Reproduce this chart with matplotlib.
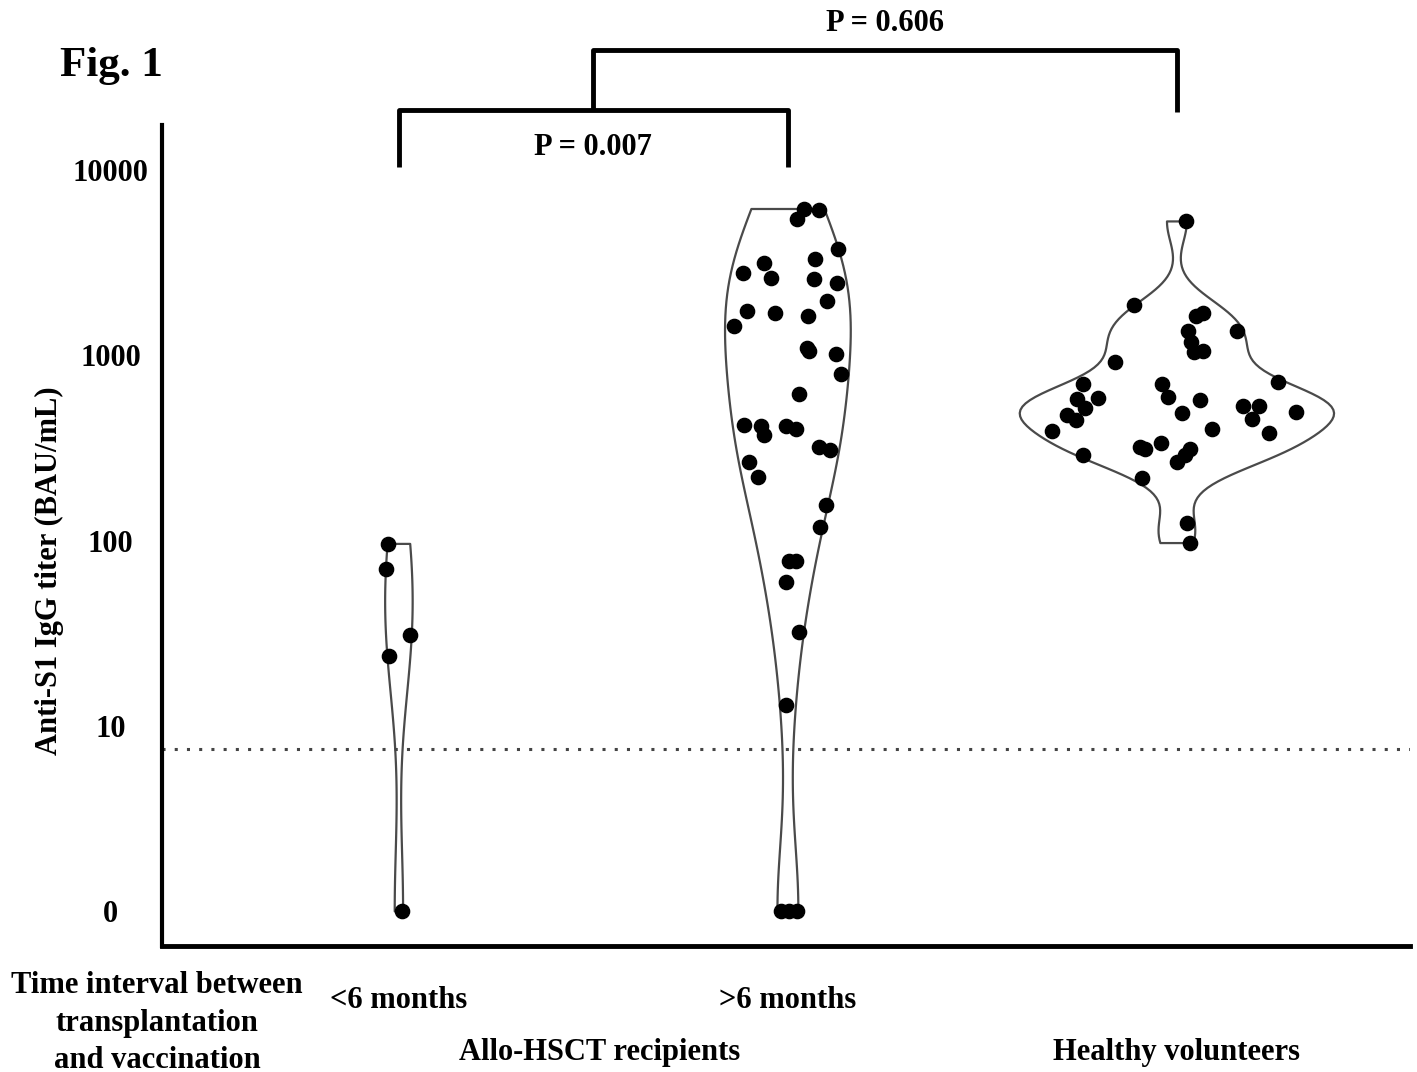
import numpy as np
import matplotlib.pyplot as plt

plt.rcParams['font.family'] = ['Liberation Serif', 'DejaVu Serif']
plt.rcParams['font.weight'] = 'bold'

# anti-S1 IgG titer (BAU/mL), 0 = below detection
early = [96, 70, 31, 24, 0]
late = [6150, 6100, 5430, 3750, 3130, 2790, 3310, 2620, 2570, 2460, 1960, 1730,
        1700, 1630, 1440, 1090, 1060, 1010, 795, 621, 422, 417, 372, 413, 400,
        319, 309, 267, 221, 155, 119, 78, 78, 60, 32, 13, 0, 0, 0]
healthy = [5270, 1860, 1680, 1620, 1350, 1350, 1180, 1055, 1035, 925, 716, 696,
           701, 576, 597, 589, 582, 520, 530, 530, 494, 488, 478, 445, 455, 400,
           388, 380, 321, 311, 335, 311, 290, 267, 290, 217, 124, 97]

# horizontal jitter of the dots as seen in the figure (category units)
early_jit = [-0.028, -0.033, 0.028, -0.025, 0.008]
late_jit = [0.04, 0.08, 0.023, 0.128, -0.062, -0.115, 0.069, -0.043, 0.067, 0.125,
            0.099, -0.103, -0.033, 0.05, -0.137, 0.048, 0.053, 0.122, 0.135, 0.029,
            -0.111, -0.069, -0.062, -0.005, 0.02, 0.08, 0.108, -0.098, -0.076,
            0.097, 0.082, 0.003, 0.02, -0.005, 0.029, -0.005, -0.018, 0.003, 0.023]
healthy_jit = [0.024, -0.11, 0.067, 0.048, 0.152, 0.028, 0.037, 0.067, 0.043, -0.158,
               0.257, -0.239, -0.038, 0.06, -0.022, -0.201, -0.254, -0.234, 0.167,
               0.209, 0.304, 0.012, -0.28, -0.256, 0.192, 0.09, -0.319, 0.235,
               -0.095, -0.082, -0.041, 0.033, 0.02, 0.0, -0.24, -0.09, 0.026, 0.033]

cutoff = 7.5
ytick_labels = ['0', '10', '100', '1000', '10000']
p_values = ['P = 0.007', 'P = 0.606']

groups = [early, late, healthy]
jitters = [early_jit, late_jit, healthy_jit]
pos = [1.0, 1.99, 2.98]
widths = [0.07, 0.32, 0.8]
bws = [0.5, 0.4, 0.35]

fig = plt.figure(figsize=(14.17, 10.72), dpi=100)
ax = fig.add_axes([0.1143, 0.1175, 0.8807, 0.7659])

for g, j, p, w, bw in zip(groups, jitters, pos, widths, bws):
    lg = np.log10(np.clip(np.array(g, dtype=float), 1, None))
    vp = ax.violinplot([lg], positions=[p], widths=w, showextrema=False, bw_method=bw)
    for b in vp['bodies']:
        b.set_facecolor('none')
        b.set_edgecolor('#4a4a4a')
        b.set_linewidth(1.6)
        b.set_alpha(1)
    ax.scatter(p + np.array(j), lg, s=105, color='black', zorder=3)

ax.axhline(np.log10(cutoff), color='#444444', lw=2.2, ls=(0, (1, 3.0)))

ax.set_xlim(0.397, 3.573)
ax.set_ylim(-0.187, 4.242)
ax.set_yticks(range(5))
ax.set_yticklabels(ytick_labels, fontsize=22, ha='center')
ax.tick_params(axis='y', length=0, pad=37)
ax.set_xticks(pos[:2])
ax.set_xticklabels(['<6 months', '>6 months'], fontsize=22)
ax.tick_params(axis='x', length=0, pad=29)
for s in ['top', 'right']:
    ax.spines[s].set_visible(False)
ax.spines['left'].set_linewidth(3)
ax.spines['bottom'].set_linewidth(3.5)

# brackets
kw = dict(color='black', lw=3.5, clip_on=False, solid_joinstyle='round', solid_capstyle='butt')
ax.plot([pos[0], pos[0], pos[1], pos[1]], [4.016, 4.323, 4.323, 4.016], **kw)
mid = (pos[0] + pos[1]) / 2
ax.plot([mid, mid, pos[2], pos[2]], [4.323, 4.645, 4.645, 4.312], **kw)
ax.text(mid, 4.118, p_values[0], ha='center', va='center', fontsize=22)
ax.text((mid + pos[2]) / 2, 4.79, p_values[1], ha='center', va='center', fontsize=22)

trans = ax.get_xaxis_transform()
ax.text(mid + 0.015, -0.13, 'Allo-HSCT recipients', transform=trans, ha='center', va='center', fontsize=22)
ax.text(pos[2], -0.13, 'Healthy volunteers', transform=trans, ha='center', va='center', fontsize=22)

fig.text(0.111, 0.0457, 'Time interval between\ntransplantation\nand vaccination',
         ha='center', va='center', fontsize=22, linespacing=1.37)
fig.text(0.035, 0.468, 'Anti-S1 IgG titer (BAU/mL)', rotation=90, ha='center', va='center', fontsize=22)
fig.text(0.042, 0.938, 'Fig. 1', ha='left', va='center', fontsize=31)

fig.savefig('out.png', dpi=100)
